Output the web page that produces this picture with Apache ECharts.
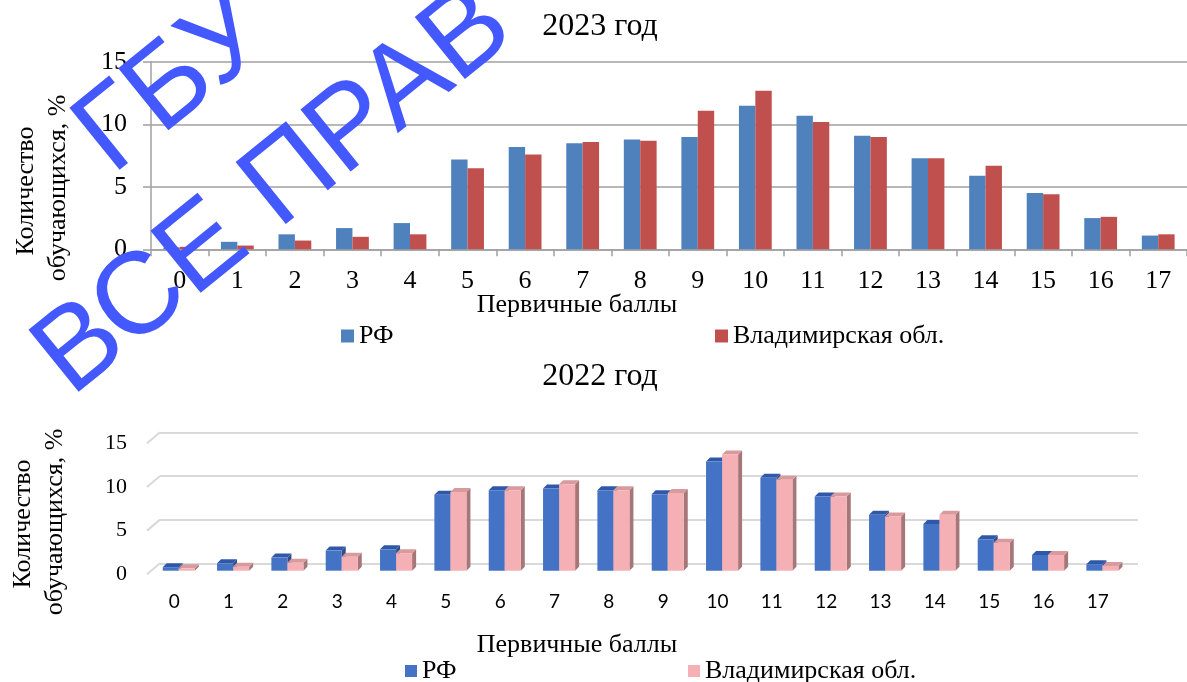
<!DOCTYPE html>
<html>
<head>
<meta charset="utf-8">
<script src="https://cdn.jsdelivr.net/npm/echarts@6/dist/echarts.min.js"></script>
<style>
html,body{margin:0;padding:0;background:#fff;}
#chart{width:1187px;height:682px;}
</style>
</head>
<body>
<div id="chart"></div>
<script>
// ---- data ----
const categories = ['0','1','2','3','4','5','6','7','8','9','10','11','12','13','14','15','16','17'];
const rf2023   = [0.15, 0.6, 1.2, 1.7, 2.1, 7.2, 8.2, 8.5, 8.8, 9.0, 11.5, 10.7, 9.1, 7.3, 5.9, 4.5, 2.5, 1.1];
const vlad2023 = [0.2, 0.3, 0.7, 1.0, 1.2, 6.5, 7.6, 8.6, 8.7, 11.1, 12.7, 10.2, 9.0, 7.3, 6.7, 4.4, 2.6, 1.2];
const rf2022   = [0.4, 0.85, 1.5, 2.3, 2.45, 8.7, 9.2, 9.4, 9.2, 8.75, 12.5, 10.65, 8.5, 6.4, 5.35, 3.6, 1.8, 0.75];
const vlad2022 = [0.27, 0.46, 0.92, 1.6, 2.0, 9.0, 9.2, 9.9, 9.2, 8.9, 13.3, 10.4, 8.5, 6.2, 6.4, 3.2, 1.8, 0.55];
const yTicks = [0, 5, 10, 15];
const title2023 = '2023 год';
const title2022 = '2022 год';
const xName = 'Первичные баллы';
const yName1 = 'Количество';
const yName2 = 'обучающихся, %';
const nameRF = 'РФ';
const nameVlad = 'Владимирская обл.';
const wmLine1 = 'ГБУ';
const wmLine2 = 'ВСЕ ПРАВ';

// ---- styles ----
const SERIF = 'Liberation Serif';
const SANS = 'Lato';
const FLOOR_DY = 7.4;   // front floor offset below back wall
const DEPTH = 4;        // bar depth
const WALL_DX = 13, WALL_DY = 11;
const WM_ROT = 39 * Math.PI / 180;

function bar3D(slot, front, topc, side) {
  return function (params, api) {
    const i = api.value(0), v = api.value(1);
    const top = api.coord([i, v]);
    const base = api.coord([i, 0]);
    const bw = api.size([1, 0])[0];
    const fw = bw * 0.295;
    const L = top[0] - bw * 0.45 + slot * fw;
    const R = L + fw;
    const fy = top[1] + FLOOR_DY;
    const by = base[1] + FLOOR_DY;
    const d = DEPTH;
    return {
      type: 'group',
      children: [
        {type: 'polygon', shape: {points: [[R, fy], [R + d, fy - d], [R + d, by - d], [R, by]]}, style: {fill: side}},
        {type: 'polygon', shape: {points: [[L, fy], [L + d, fy - d], [R + d, fy - d], [R, fy]]}, style: {fill: topc}},
        {type: 'rect', shape: {x: L, y: fy, width: fw, height: by - fy}, style: {fill: front}}
      ]
    };
  };
}

function wallLines(params, api) {
  const v = api.value(0);
  const p = api.coord([0, v]);
  const bw = api.size([1, 0])[0];
  const left = p[0] - bw / 2;
  return {
    type: 'line',
    shape: {x1: left - WALL_DX, y1: p[1] + WALL_DY, x2: left, y2: p[1]},
    style: {stroke: '#D9D9D9', lineWidth: 2}
  };
}

function vtext(x, y, text) {
  return {type: 'text', x: x, y: y, rotation: Math.PI / 2,
    style: {text: text, font: '26px "' + SERIF + '"', fill: '#000', align: 'center', verticalAlign: 'middle'}};
}
function htext(x, y, text) {
  return {type: 'text', x: x, y: y,
    style: {text: text, font: '26px "' + SERIF + '"', fill: '#000', align: 'center', verticalAlign: 'middle'}};
}

const legendText = {fontFamily: SERIF, fontSize: 26, color: '#000'};

const chart = echarts.init(document.getElementById('chart'));
chart.setOption({
  animation: false,
  backgroundColor: '#fff',
  title: [
    {text: title2023, left: 600, top: 11, textAlign: 'center', padding: 0,
     textStyle: {fontFamily: SERIF, fontSize: 32, fontWeight: 'normal', color: '#000'}},
    {text: title2022, left: 600, top: 361, textAlign: 'center', padding: 0,
     textStyle: {fontFamily: SERIF, fontSize: 32, fontWeight: 'normal', color: '#000'}}
  ],
  legend: [
    {data: [{name: nameRF, itemStyle: {color: '#4F81BD'}}], left: 341, top: 323, padding: 0, icon: 'rect',
     itemWidth: 13, itemHeight: 13, selectedMode: false, textStyle: legendText},
    {data: [{name: nameVlad, itemStyle: {color: '#C0504D'}}], left: 715, top: 323, padding: 0, icon: 'rect',
     itemWidth: 13, itemHeight: 13, selectedMode: false, textStyle: legendText},
    {data: [{name: nameRF, itemStyle: {color: '#4472C4'}}], left: 405, top: 658, padding: 0, icon: 'rect',
     itemWidth: 12, itemHeight: 12, selectedMode: false, textStyle: legendText},
    {data: [{name: nameVlad, itemStyle: {color: '#F4B0B4'}}], left: 688, top: 658, padding: 0, icon: 'rect',
     itemWidth: 12, itemHeight: 12, selectedMode: false, textStyle: legendText}
  ],
  grid: [
    {left: 151, top: 62, width: 1041, height: 187.3},
    {left: 160, top: 432.3, width: 978, height: 131},
    {left: 147, top: 443.3, width: 978, height: 131}
  ],
  xAxis: [
    {gridIndex: 0, type: 'category', data: categories,
     axisLine: {lineStyle: {color: '#A0A0A0', width: 1.5}},
     axisTick: {show: true, length: 7, alignWithLabel: false, lineStyle: {color: '#A0A0A0', width: 1.5}},
     axisLabel: {fontFamily: SERIF, fontSize: 26, color: '#000', margin: 19}},
    {gridIndex: 1, type: 'category', data: categories, show: false},
    {gridIndex: 2, type: 'category', data: categories,
     axisLine: {show: false}, axisTick: {show: false},
     axisLabel: {fontFamily: SANS, fontSize: 19, color: '#000', margin: 18}}
  ],
  yAxis: [
    {gridIndex: 0, type: 'value', min: 0, max: 15, interval: 5,
     axisLine: {show: true, lineStyle: {color: '#A0A0A0', width: 1.5}},
     axisTick: {show: true, length: 8, lineStyle: {color: '#A0A0A0', width: 1.5}},
     splitLine: {lineStyle: {color: '#A0A0A0', width: 1.5}},
     axisLabel: {fontFamily: SERIF, fontSize: 26, color: '#000', margin: 24}},
    {gridIndex: 1, type: 'value', min: 0, max: 15, interval: 5,
     axisLine: {show: false}, axisTick: {show: false}, axisLabel: {show: false},
     splitLine: {lineStyle: {color: '#D9D9D9', width: 2}}},
    {gridIndex: 2, type: 'value', min: 0, max: 15, interval: 5,
     axisLine: {show: false}, axisTick: {show: false}, splitLine: {show: false},
     axisLabel: {fontFamily: SERIF, fontSize: 22, color: '#000', margin: 20}}
  ],
  series: [
    {type: 'bar', name: nameRF, xAxisIndex: 0, yAxisIndex: 0, data: rf2023,
     barGap: '0%', barCategoryGap: '43%', itemStyle: {color: '#4F81BD'}},
    {type: 'bar', name: nameVlad, xAxisIndex: 0, yAxisIndex: 0, data: vlad2023,
     barGap: '0%', barCategoryGap: '43%', itemStyle: {color: '#C0504D'}},
    {type: 'custom', name: 'wall', xAxisIndex: 1, yAxisIndex: 1, silent: true,
     data: yTicks.map(v => [v]), encode: {y: 0}, renderItem: wallLines},
    {type: 'custom', name: nameRF, xAxisIndex: 1, yAxisIndex: 1,
     data: rf2022.map((v, i) => [i, v]), encode: {x: 0, y: 1},
     itemStyle: {color: '#4472C4'},
     renderItem: bar3D(0, '#4472C4', '#2F58A8', '#2E4F8C')},
    {type: 'custom', name: nameVlad, xAxisIndex: 1, yAxisIndex: 1,
     data: vlad2022.map((v, i) => [i, v]), encode: {x: 0, y: 1},
     itemStyle: {color: '#F4B0B4'},
     renderItem: bar3D(1, '#F4B0B4', '#D99A9E', '#A57778')}
  ],
  graphic: [
    vtext(26, 191, yName1), vtext(58, 188, yName2),
    vtext(23, 524, yName1), vtext(55, 522, yName2),
    htext(577, 305, xName), htext(577, 645, xName),
    {type: 'text', x: 92, y: 151, rotation: WM_ROT, z: 100,
     style: {text: wmLine1, font: '116px "Liberation Sans"', fill: '#4458FF', align: 'left', verticalAlign: 'middle'}},
    {type: 'text', x: 51, y: 373, rotation: WM_ROT, z: 100,
     style: {text: wmLine2, font: '116px "Liberation Sans"', fill: '#4458FF', align: 'left', verticalAlign: 'middle'}}
  ]
});
</script>
</body>
</html>
